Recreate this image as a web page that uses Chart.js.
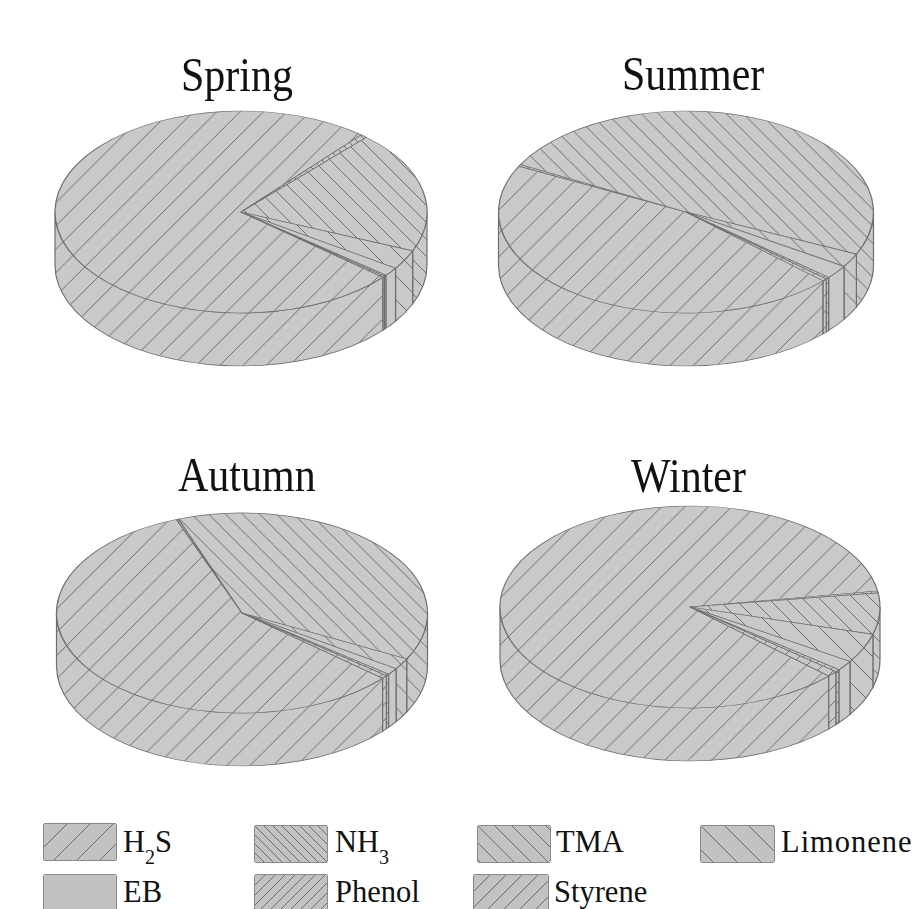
<!DOCTYPE html>
<html>
<head>
<meta charset="utf-8">
<title>Seasonal odorant shares</title>
<script src="https://cdn.jsdelivr.net/npm/chart.js@4"></script>
<style>
    html, body { margin: 0; padding: 0; background: #fff; }
    #page { position: relative; width: 923px; height: 909px; overflow: hidden; font-family: "Liberation Serif", serif; color: #111; }
    #page canvas { position: absolute; }
    .title { position: absolute; font-size: 42px; line-height: 48px; white-space: nowrap; transform: scaleY(1.15); transform-origin: 0 38px; }
    .label { position: absolute; font-size: 30.5px; line-height: 34px; white-space: nowrap; }
    .label sub { font-size: 20px; line-height: 0; vertical-align: -12px; }
    .swatch { border: 1px solid #8a8a8a; border-radius: 2px; box-sizing: border-box; }
</style>
</head>
<body>
<div id="page"></div>
<script>
// Categories
const compounds = ['H2S', 'NH3', 'TMA', 'Limonene', 'EB', 'Phenol', 'Styrene'];
const legendLabels = ['H<sub>2</sub>S', 'NH<sub>3</sub>', 'TMA', 'Limonene', 'EB', 'Phenol', 'Styrene'];

// Shares per season in percent
const spring = [74.9, 0.6, 19.5, 3.1, 1.4, 0.2, 0.2];
const summer = [45.6, 0.3, 49.1, 2.2, 2.2, 0.3, 0.4];
const autumn = [58.0, 0.2, 38.2, 1.8, 1.1, 0.3, 0.5];
const winter = [85.5, 0.3, 6.6, 4.7, 1.6, 0.4, 0.9];

const FILL = '#c9c9c9';
const LINE = '#6e6e6e';
const CANVAS_SIZE = 400;
const DEPTH = 53;

// Hatch spacing (px) and direction for each compound, EB is plain
const hatchSpacing = [23.33, 9, 17, 24, 0, 10, 16];
const hatchRising = [true, false, false, false, false, true, true];

function makeTile(i, bg) {
    const p = Math.round(hatchSpacing[i]);
    const tile = document.createElement('canvas');
    tile.width = tile.height = p || 4;
    const c = tile.getContext('2d');
    c.fillStyle = bg;
    c.fillRect(0, 0, tile.width, tile.height);
    if (p) {
        c.strokeStyle = LINE;
        c.lineWidth = 1;
        c.beginPath();
        for (let o = -p; o <= p; o += p) {
            if (hatchRising[i]) {
                c.moveTo(o, p);
                c.lineTo(o + p, 0);
            } else {
                c.moveTo(o, 0);
                c.lineTo(o + p, p);
            }
        }
        c.stroke();
    }
    return tile;
}

// The pie gets squashed on the canvas, so the pattern is stretched back and
// lined up with the page. Only the big H2S slice gets its own phase.
function makePatterns(k, left, top, h2sPhase) {
    const ctx = document.createElement('canvas').getContext('2d');
    return compounds.map(function(name, i) {
        const s = hatchSpacing[i] ? hatchSpacing[i] / Math.round(hatchSpacing[i]) : 1;
        const phase = i === 0 ? h2sPhase : 0;
        const pattern = ctx.createPattern(makeTile(i, FILL), 'repeat');
        pattern.setTransform(new DOMMatrix()
            .translate(-left, CANVAS_SIZE / 2)
            .scale(1, 1 / k)
            .translate(phase, -top - CANVAS_SIZE / 2)
            .scale(s, s));
        return pattern;
    });
}

// Tilts the pie and draws the rim below it
const tiltPlugin = {
    id: 'tilt',
    beforeDatasetsDraw(chart, args, opts) {
        const ctx = chart.ctx;
        const arcs = chart.getDatasetMeta(0).data;
        const k = opts.squash;
        const cy = arcs[0].y;
        const wall = opts.depth / k;
        ctx.save();
        ctx.translate(0, cy);
        ctx.scale(1, k);
        ctx.translate(0, -cy);

        ctx.lineWidth = 1.2;
        ctx.strokeStyle = LINE;
        arcs.forEach(function(arc) {
            const p = arc.getProps(['x', 'y', 'startAngle', 'endAngle', 'outerRadius']);
            for (let turn = -1; turn <= 1; turn++) {
                const shift = turn * 2 * Math.PI;
                const from = Math.max(p.startAngle + shift, 0);
                const to = Math.min(p.endAngle + shift, Math.PI);
                if (to <= from) continue;
                ctx.beginPath();
                ctx.arc(p.x, p.y, p.outerRadius, from, to);
                ctx.arc(p.x, p.y + wall, p.outerRadius, to, from, true);
                ctx.closePath();
                ctx.fillStyle = arc.options.backgroundColor;
                ctx.fill();
                ctx.stroke();
            }
        });
    },
    afterDatasetsDraw(chart) {
        chart.ctx.restore();
    }
};

const page = document.getElementById('page');

function addPie(values, opts) {
    const left = opts.cx - CANVAS_SIZE / 2;
    const top = opts.cy - CANVAS_SIZE / 2;
    const canvas = document.createElement('canvas');
    canvas.width = canvas.height = CANVAS_SIZE;
    canvas.style.left = left + 'px';
    canvas.style.top = top + 'px';
    canvas.style.width = canvas.style.height = CANVAS_SIZE + 'px';
    page.appendChild(canvas);

    const squash = opts.ry / opts.rx;
    new Chart(canvas.getContext('2d'), {
        type: 'pie',
        data: {
            labels: compounds,
            datasets: [{
                data: values,
                backgroundColor: makePatterns(squash, left, top, opts.phase),
                borderColor: LINE,
                borderWidth: 1.2,
                radius: opts.rx
            }]
        },
        options: {
            responsive: false,
            animation: false,
            events: [],
            rotation: opts.rotation,
            layout: { padding: 0 },
            plugins: {
                legend: { display: false },
                tooltip: { enabled: false },
                tilt: { squash: squash, depth: DEPTH }
            }
        },
        plugins: [tiltPlugin]
    });

    const title = document.createElement('div');
    title.className = 'title';
    title.textContent = opts.title;
    title.style.left = opts.titleX + 'px';
    title.style.top = opts.titleY + 'px';
    page.appendChild(title);
}

addPie(spring, { title: 'Spring', titleX: 181, titleY: 53, cx: 241, cy: 212, rx: 186, ry: 101, rotation: 130.3, phase: 281.7 });
addPie(summer, { title: 'Summer', titleX: 622, titleY: 52, cx: 685.5, cy: 212, rx: 187.5, ry: 101, rotation: 133, phase: 731.7 });
addPie(autumn, { title: 'Autumn', titleX: 178, titleY: 453, cx: 241.5, cy: 613, rx: 185.5, ry: 100, rotation: 130.7, phase: 688.3 });
addPie(winter, { title: 'Winter', titleX: 631, titleY: 454, cx: 690, cy: 607, rx: 190, ry: 101, rotation: 133.1, phase: 1145 });

// Legend
const legendSlots = [
    { x: 43, y: 823, tx: 123, ty: 825, w: 72 },
    { x: 254, y: 825, tx: 335, ty: 825, w: 72 },
    { x: 477, y: 825, tx: 556, ty: 825, w: 72 },
    { x: 700, y: 825, tx: 781, ty: 825, w: 73, spacing: 1 },
    { x: 43, y: 874, tx: 123, ty: 875, w: 72 },
    { x: 254, y: 874, tx: 335, ty: 875, w: 72 },
    { x: 473, y: 874, tx: 554, ty: 875, w: 74 }
];

legendLabels.forEach(function(text, i) {
    const slot = legendSlots[i];
    const swatch = document.createElement('canvas');
    swatch.className = 'swatch';
    swatch.width = slot.w;
    swatch.height = 36;
    swatch.style.left = slot.x + 'px';
    swatch.style.top = slot.y + 'px';
    const c = swatch.getContext('2d');
    c.fillStyle = c.createPattern(makeTile(i, '#c2c2c2'), 'repeat');
    c.fillRect(0, 0, swatch.width, swatch.height);
    page.appendChild(swatch);

    const label = document.createElement('div');
    label.className = 'label';
    label.innerHTML = text;
    label.style.left = slot.tx + 'px';
    label.style.top = slot.ty + 'px';
    if (slot.spacing) label.style.letterSpacing = slot.spacing + 'px';
    page.appendChild(label);
});
</script>
</body>
</html>
